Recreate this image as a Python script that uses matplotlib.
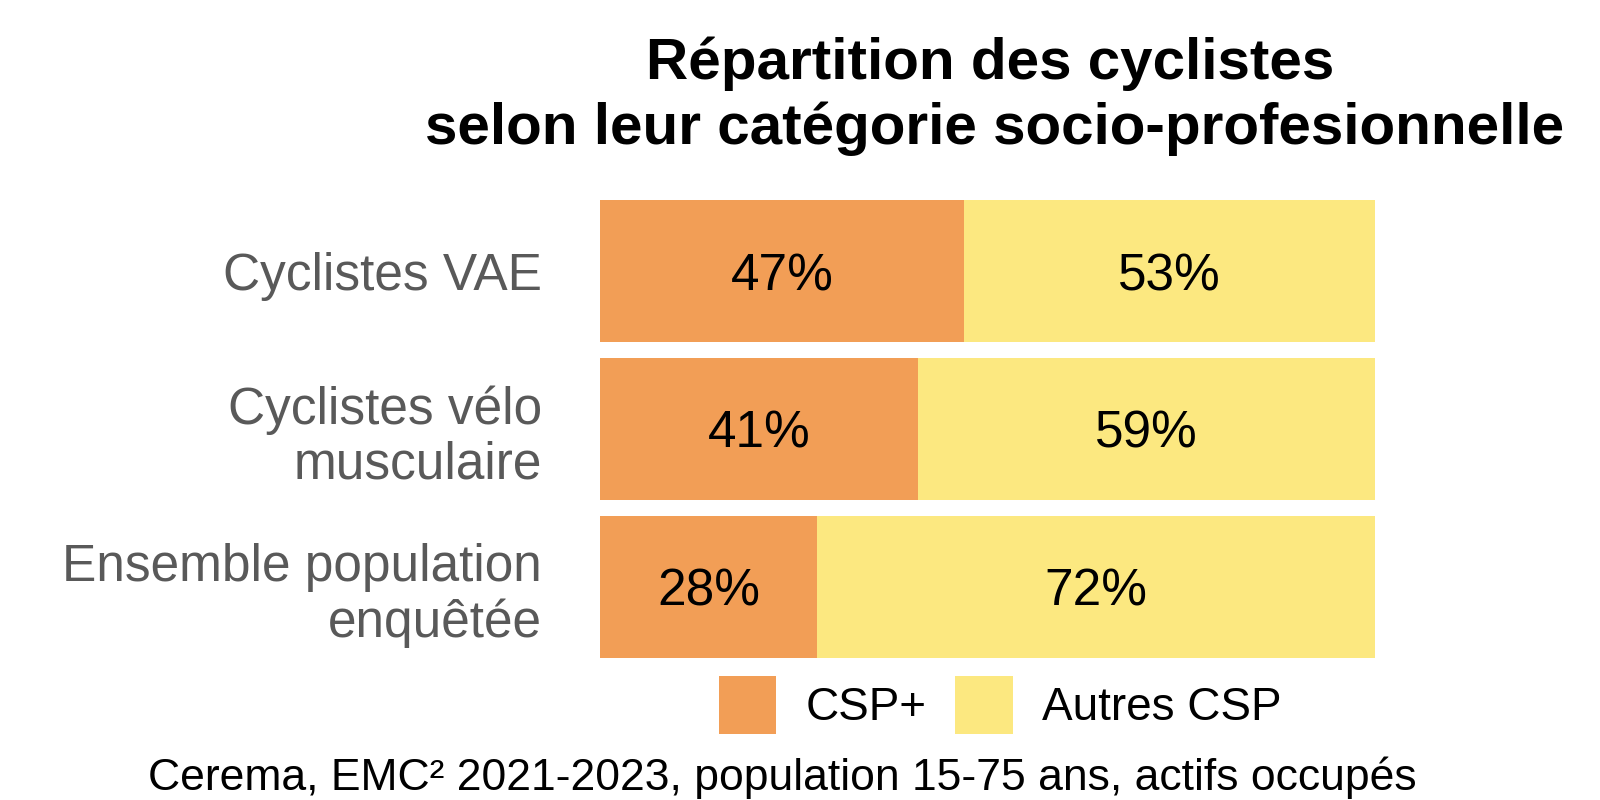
import matplotlib.pyplot as plt
from matplotlib.patches import Patch

categories = ["Cyclistes VAE", "Cyclistes vélo\nmusculaire", "Ensemble population\nenquêtée"]
csp_plus = [47, 41, 28]
autres_csp = [53, 59, 72]
series_names = ["CSP+", "Autres CSP"]
colors = ["#F29E56", "#FCE880"]

plt.rcParams["font.family"] = ["Liberation Sans", "DejaVu Sans"]

fig = plt.figure(figsize=(16, 8), dpi=100)
ax = fig.add_axes([600 / 1600, 1 - 658 / 800, 775 / 1600, 458 / 800])

y = list(range(len(categories)))
ax.barh(y, csp_plus, height=0.9, color=colors[0])
ax.barh(y, autres_csp, left=csp_plus, height=0.9, color=colors[1])

for i in y:
    ax.text(csp_plus[i] / 2, i, f"{csp_plus[i]}%", ha="center", va="center_baseline",
            fontsize=37, color="black")
    ax.text(csp_plus[i] + autres_csp[i] / 2, i, f"{autres_csp[i]}%", ha="center",
            va="center_baseline", fontsize=37, color="black")

ax.set_xlim(0, 100)
ax.set_ylim(len(categories) - 0.55, -0.45)
ax.set_yticks(y)
ax.set_yticklabels(categories, fontsize=37, color="#595959", linespacing=1.16)
ax.tick_params(axis="y", length=0, pad=42)
ax.set_xticks([])
for spine in ax.spines.values():
    spine.set_visible(False)

fig.text(990 / 1600, 1 - 79 / 800, "Répartition des cyclistes", ha="center", va="baseline",
         fontsize=42, fontweight="bold")
fig.text(995 / 1600, 1 - 144 / 800, "selon leur catégorie socio-profesionnelle", ha="center",
         va="baseline", fontsize=42, fontweight="bold")

handles = [Patch(facecolor=c, edgecolor="none") for c in colors]
fig.legend(handles, series_names, loc="center", bbox_to_anchor=(1000 / 1600, 1 - 705 / 800),
           ncol=2, frameon=False, fontsize=33, handlelength=1.26, handleheight=1.57,
           handletextpad=0.63, columnspacing=0.63, borderpad=0)

fig.text(782 / 1600, 1 - 790 / 800, "Cerema, EMC² 2021-2023, population 15-75 ans, actifs occupés",
         ha="center", va="baseline", fontsize=32)

fig.savefig("out.png", dpi=100)
